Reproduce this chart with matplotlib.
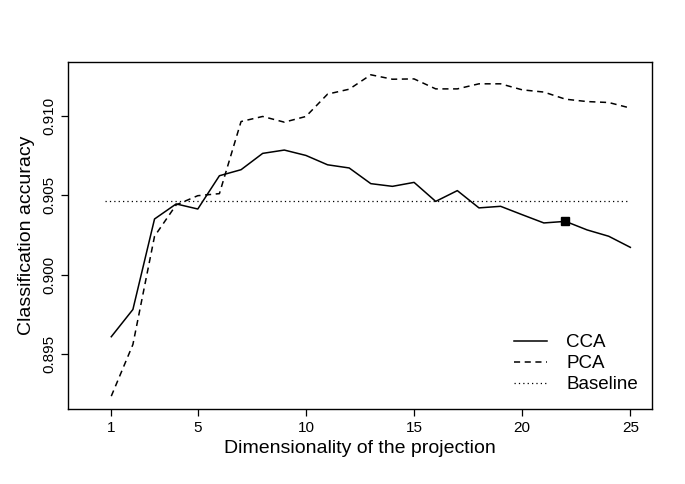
import matplotlib.pyplot as plt
import numpy as np

plt.rcParams['font.family'] = ['Liberation Sans', 'DejaVu Sans']

# Data
dims = np.arange(1, 26)
cca = [0.89608, 0.89780, 0.90351, 0.90446, 0.90414, 0.90624, 0.90662, 0.90765,
       0.90786, 0.90752, 0.90693, 0.90673, 0.90574, 0.90557, 0.90582, 0.90462,
       0.90530, 0.90421, 0.90431, 0.90378, 0.90326, 0.90336, 0.90282, 0.90242,
       0.90172]
pca = [0.89233, 0.89559, 0.90242, 0.90440, 0.90498, 0.90511, 0.90966, 0.90998,
       0.90962, 0.90998, 0.91139, 0.91170, 0.91261, 0.91233, 0.91235, 0.91172,
       0.91172, 0.91204, 0.91204, 0.91166, 0.91152, 0.91107, 0.91092, 0.91086,
       0.91051]
baseline = 0.90462
baseline_x = [0.7, 25]
marked_dim = 22
xticks = [1, 5, 10, 15, 20, 25]
yticks = [0.895, 0.900, 0.905, 0.910]

fig = plt.figure(figsize=(6.85, 4.84), dpi=100)
ax = fig.add_axes([0.0993, 0.155, 0.8525, 0.717])

ax.plot(dims, cca, color='black', lw=1.1, label='CCA')
ax.plot(dims, pca, color='black', lw=1.1, ls=(0, (4, 3)), label='PCA')
ax.plot(baseline_x, [baseline, baseline], color='black', lw=0.9, ls=(0, (1, 2.5)),
        label='Baseline')
ax.plot([marked_dim], [cca[marked_dim - 1]], marker='s', color='black', ms=6, ls='none')

ax.set_xlim(-1, 26)
ax.set_ylim(0.89152, 0.91342)
ax.set_xticks(xticks)
ax.set_yticks(yticks)
ax.set_yticklabels([f'{v:.3f}' for v in yticks], rotation=90, va='center')
ax.tick_params(direction='out', length=5, width=0.9, labelsize=11, pad=3.5)

for s in ax.spines.values():
    s.set_linewidth(1.0)

ax.set_xlabel('Dimensionality of the projection', fontsize=14, labelpad=4)
ax.set_ylabel('Classification accuracy', fontsize=14, labelpad=5)

ax.legend(loc='lower right', bbox_to_anchor=(1.0, 0.005), frameon=False, fontsize=13.5,
          handlelength=1.8, handletextpad=1.0, labelspacing=0.2, borderaxespad=0.35)

fig.savefig('out.png', dpi=100)
